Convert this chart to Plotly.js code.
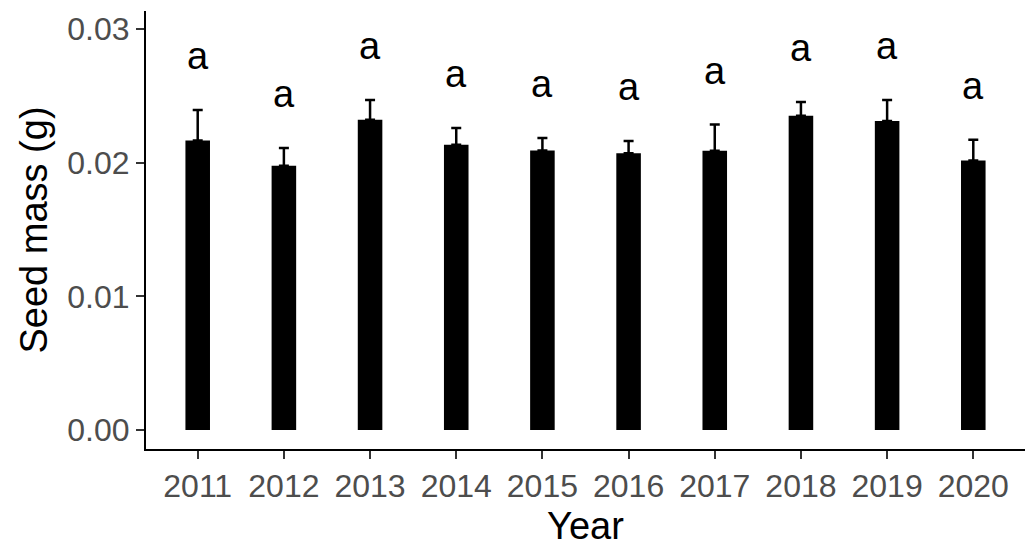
<!DOCTYPE html>
<html>
<head>
<meta charset="utf-8">
<script src="https://cdn.plot.ly/plotly-3.0.1.min.js"></script>
<style>html,body{margin:0;padding:0;background:#fff;}#chart{width:1030px;height:547px;}</style>
</head>
<body>
<div id="chart"></div>
<script>
// Data
var years = ['2011','2012','2013','2014','2015','2016','2017','2018','2019','2020'];
var seedMass = [0.02167, 0.01978, 0.02322, 0.02135, 0.02092, 0.02070, 0.02090, 0.02352, 0.02312, 0.02017];
var seedSE = [0.00228, 0.00132, 0.00148, 0.00125, 0.00093, 0.00093, 0.00195, 0.00103, 0.00158, 0.00155];
var letters = ['a','a','a','a','a','a','a','a','a','a'];

var FONT = 'Liberation Sans, Arial, sans-serif';

var trace = {
  type: 'bar',
  x: years,
  y: seedMass,
  width: 0.285,
  marker: {color: '#000000', line: {width: 0}},
  error_y: {
    type: 'data',
    symmetric: false,
    array: seedSE,
    arrayminus: seedSE.map(function(){return 0;}),
    color: '#000000',
    thickness: 2.5,
    width: 5
  },
  hoverinfo: 'x+y'
};

var annotations = years.map(function(yr, i){
  return {
    x: i, y: seedMass[i] + seedSE[i],
    xref: 'x', yref: 'y',
    text: letters[i],
    showarrow: false,
    yanchor: 'middle',
    yshift: 54,
    font: {family: FONT, size: 38, color: '#000000'}
  };
});

var layout = {
  width: 1030, height: 547,
  margin: {l: 146, r: 5, t: 11, b: 98},
  paper_bgcolor: '#ffffff',
  plot_bgcolor: '#ffffff',
  showlegend: false,
  font: {family: FONT},
  xaxis: {
    type: 'category',
    range: [-0.6, 9.6],
    showline: true, linecolor: '#000000', linewidth: 2,
    ticks: 'outside', ticklen: 8, tickwidth: 2, tickcolor: '#333333',
    tickfont: {family: FONT, size: 32, color: '#4d4d4d'},
    showgrid: false, zeroline: false,
    title: {text: 'Year', font: {family: FONT, size: 38, color: '#000000'}, standoff: 10},
    automargin: false
  },
  yaxis: {
    range: [-0.00142, 0.03135],
    tickvals: [0, 0.01, 0.02, 0.03],
    ticktext: ['0.00','0.01','0.02','0.03'],
    showline: true, linecolor: '#000000', linewidth: 2,
    ticks: 'outside', ticklen: 8, tickwidth: 2, tickcolor: '#333333',
    tickfont: {family: FONT, size: 32, color: '#4d4d4d'},
    showgrid: false, zeroline: false,
    title: {text: 'Seed mass (g)', font: {family: FONT, size: 38, color: '#000000'}, standoff: 8},
    automargin: false
  },
  annotations: annotations
};

Plotly.newPlot('chart', [trace], layout, {displayModeBar: false, staticPlot: true});
</script>
</body>
</html>
